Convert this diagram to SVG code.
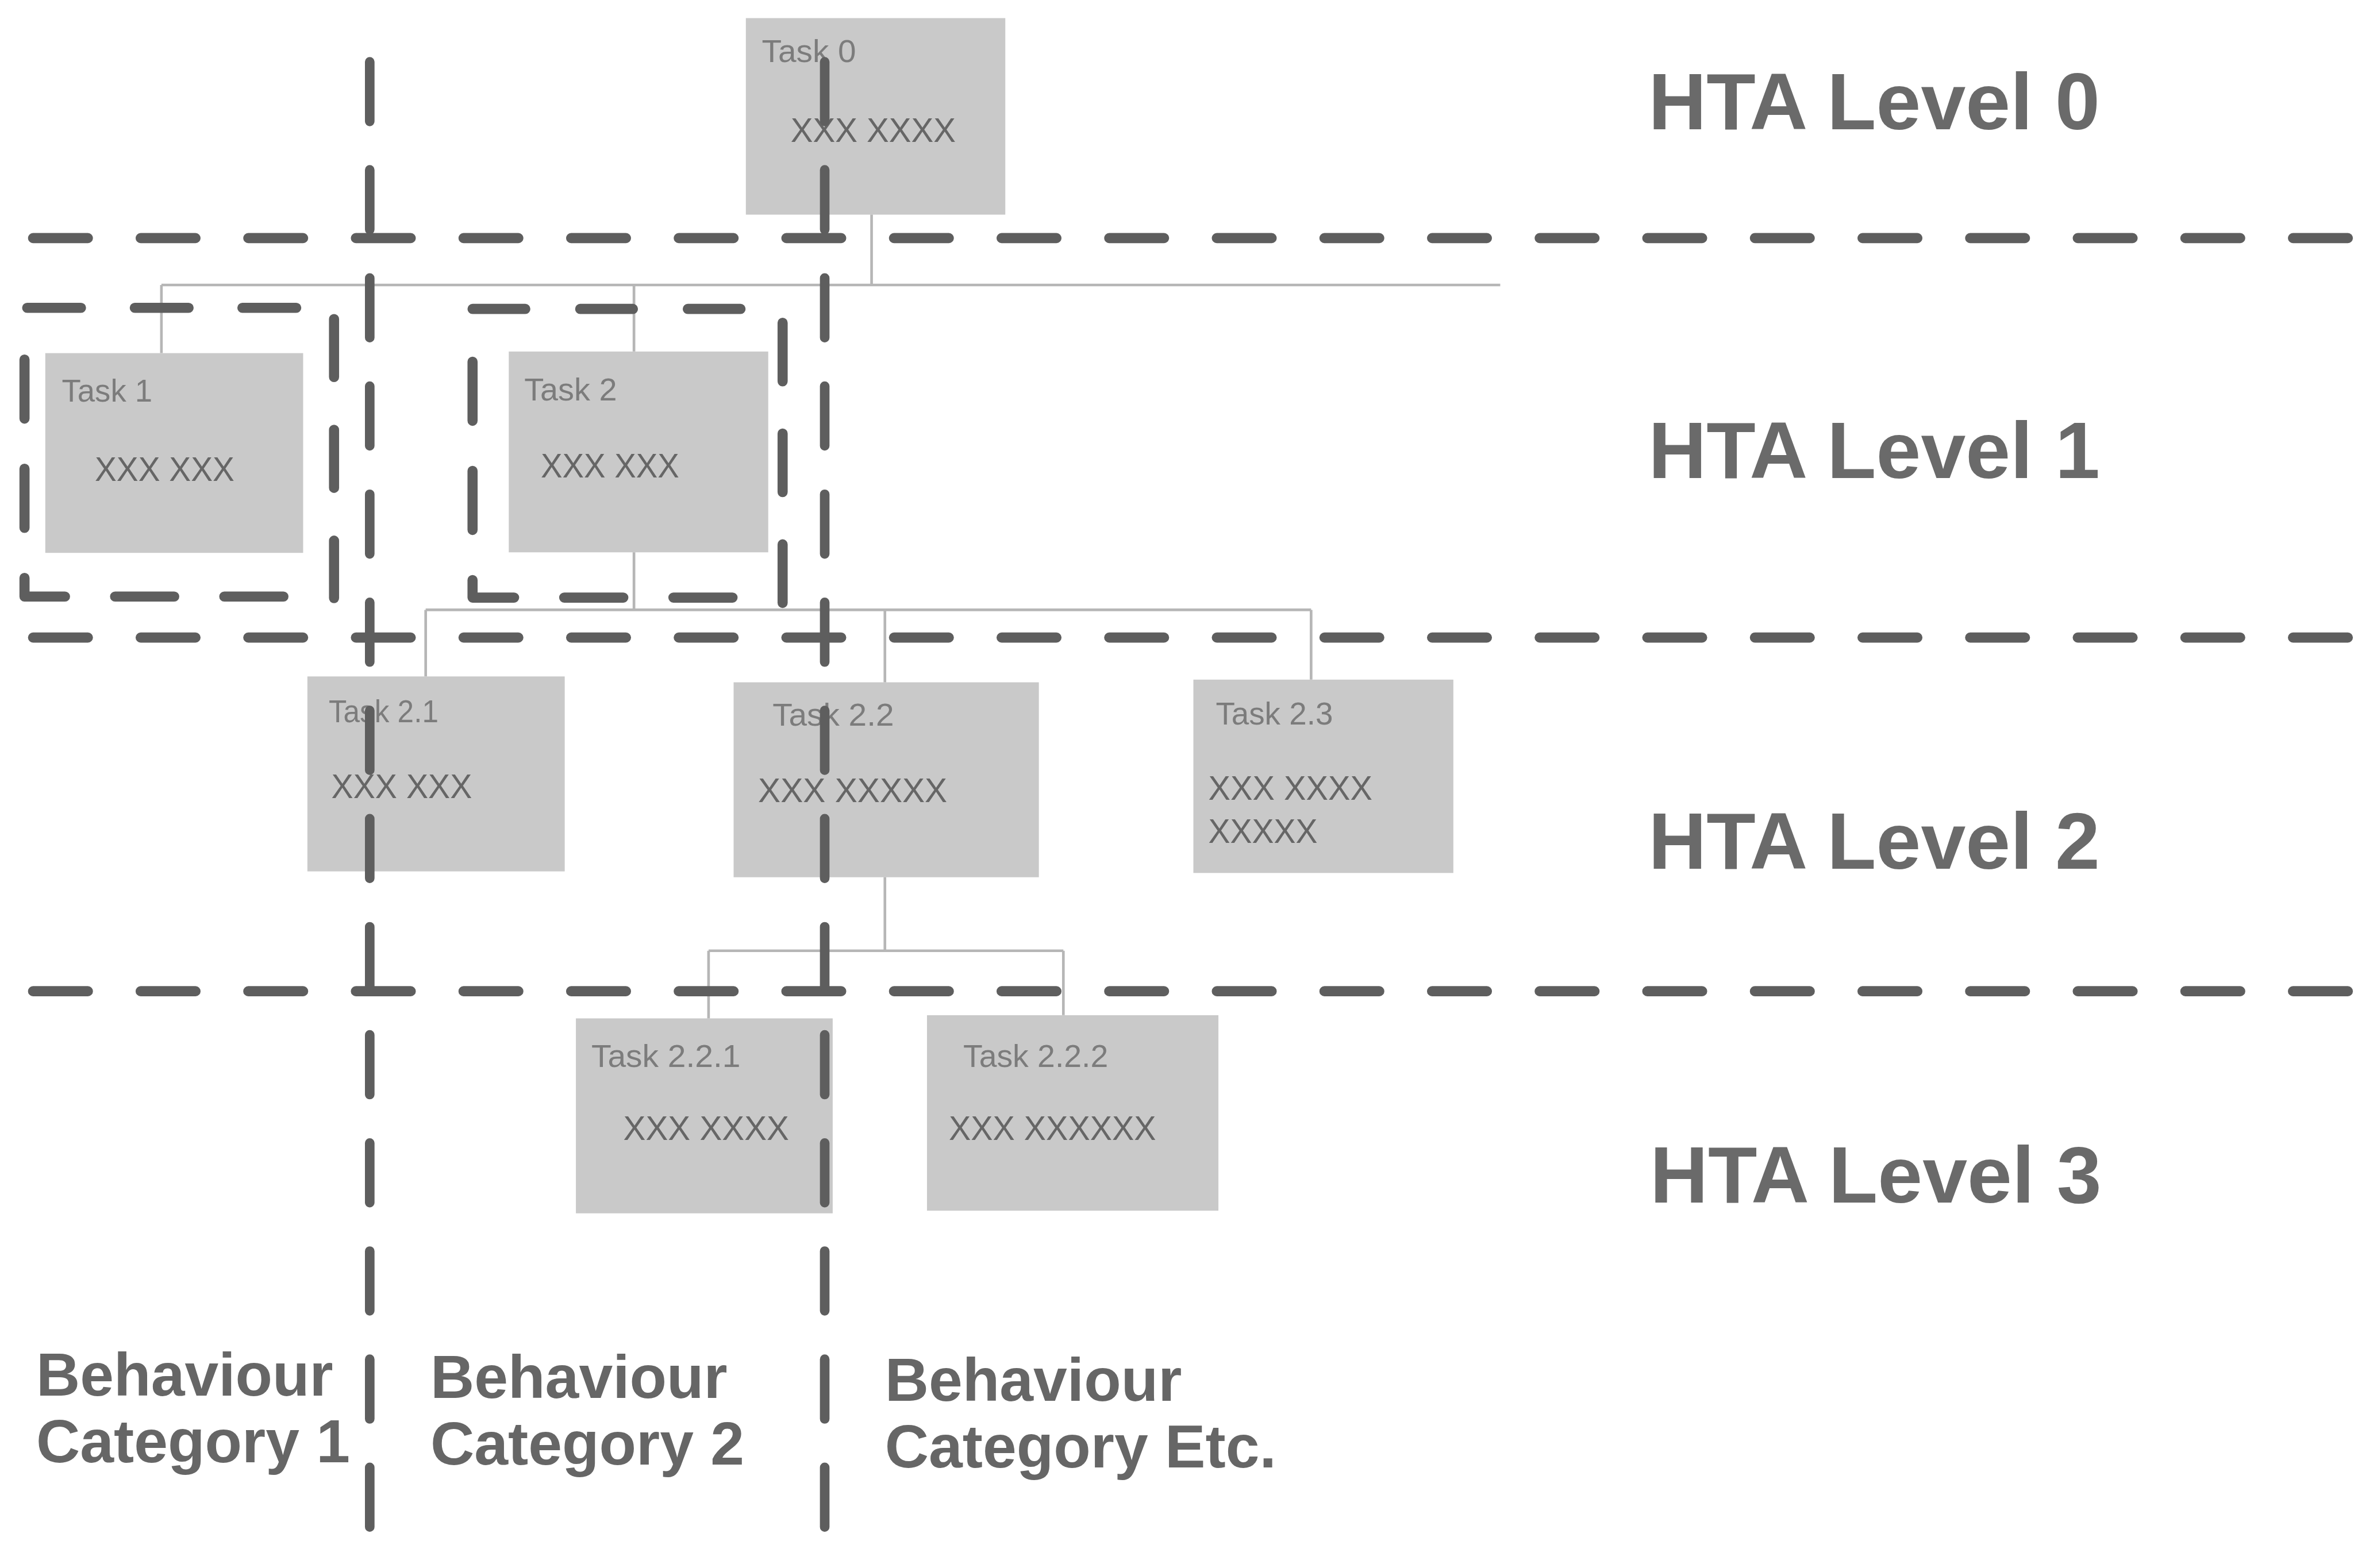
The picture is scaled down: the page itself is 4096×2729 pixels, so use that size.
<svg xmlns="http://www.w3.org/2000/svg" width="4096" height="2729" viewBox="0 0 4096 2729">
  <style>
    .box { fill: #c9c9c9; }
    .tname { font-family: "Liberation Sans", Arial, sans-serif; font-size: 60px; fill: #7c7c7c; }
    .tdesc { font-family: "Liberation Sans", Arial, sans-serif; font-size: 64px; fill: #666666; }
    .link { fill: none; stroke: #b6b6b6; stroke-width: 5; }
    .hdash { fill: none; stroke: #5e5e5e; stroke-width: 19; stroke-linecap: round; stroke-dasharray: 103 99; }
    .vdash { fill: none; stroke: #5e5e5e; stroke-width: 18; stroke-linecap: round; stroke-dasharray: 112 91; }
    .gdash { fill: none; stroke: #5e5e5e; stroke-width: 19; stroke-linecap: round; stroke-linejoin: round; }
    .level { font-family: "Liberation Sans", Arial, sans-serif; font-size: 151px; font-weight: bold; fill: #6a6a6a; }
    .cat { font-family: "Liberation Sans", Arial, sans-serif; font-size: 114px; font-weight: bold; fill: #666666; }
  </style>
  <rect x="0" y="0" width="4096" height="2729" fill="#ffffff"/>
  <g transform="scale(0.927)">

    <!-- task nodes -->
    <g id="task-0">
      <rect class="box" x="1400" y="34" width="487" height="369"/>
      <text class="tname" x="1430" y="117" textLength="177" lengthAdjust="spacingAndGlyphs">Task 0</text>
      <text class="tdesc" x="1484" y="266" textLength="310" lengthAdjust="spacingAndGlyphs">XXX XXXX</text>
    </g>
    <g id="task-1">
      <rect class="box" x="85" y="663" width="484" height="375"/>
      <text class="tname" x="116" y="754" textLength="170" lengthAdjust="spacingAndGlyphs">Task 1</text>
      <text class="tdesc" x="178" y="903" textLength="262" lengthAdjust="spacingAndGlyphs">XXX XXX</text>
    </g>
    <g id="task-2">
      <rect class="box" x="955" y="660" width="487" height="377"/>
      <text class="tname" x="984" y="752" textLength="174" lengthAdjust="spacingAndGlyphs">Task 2</text>
      <text class="tdesc" x="1015" y="896" textLength="260" lengthAdjust="spacingAndGlyphs">XXX XXX</text>
    </g>
    <g id="task-2-1">
      <rect class="box" x="577" y="1270" width="483" height="366"/>
      <text class="tname" x="617" y="1356" textLength="206" lengthAdjust="spacingAndGlyphs">Task 2.1</text>
      <text class="tdesc" x="622" y="1498" textLength="264" lengthAdjust="spacingAndGlyphs">XXX XXX</text>
    </g>
    <g id="task-2-2">
      <rect class="box" x="1377" y="1281" width="573" height="366"/>
      <text class="tname" x="1450" y="1362" textLength="228" lengthAdjust="spacingAndGlyphs">Task 2.2</text>
      <text class="tdesc" x="1423" y="1506" textLength="355" lengthAdjust="spacingAndGlyphs">XXX XXXXX</text>
    </g>
    <g id="task-2-3">
      <rect class="box" x="2240" y="1276" width="488" height="363"/>
      <text class="tname" x="2282" y="1360" textLength="220" lengthAdjust="spacingAndGlyphs">Task 2.3</text>
      <text class="tdesc" x="2268" y="1502" textLength="308" lengthAdjust="spacingAndGlyphs">XXX XXXX</text>
      <text class="tdesc" x="2268" y="1582" textLength="205" lengthAdjust="spacingAndGlyphs">XXXXX</text>
    </g>
    <g id="task-2-2-1">
      <rect class="box" x="1081" y="1912" width="482" height="366"/>
      <text class="tname" x="1110" y="2003" textLength="280" lengthAdjust="spacingAndGlyphs">Task 2.2.1</text>
      <text class="tdesc" x="1170" y="2140" textLength="311" lengthAdjust="spacingAndGlyphs">XXX XXXX</text>
    </g>
    <g id="task-2-2-2">
      <rect class="box" x="1740" y="1906" width="547" height="367"/>
      <text class="tname" x="1808" y="2003" textLength="272" lengthAdjust="spacingAndGlyphs">Task 2.2.2</text>
      <text class="tdesc" x="1781" y="2140" textLength="389" lengthAdjust="spacingAndGlyphs">XXX XXXXXX</text>
    </g>

    <!-- hierarchy connectors -->
    <g id="connectors">
      <path class="link" d="M1636,403 V535 M303,535 H2816 M303,535 V663 M1190,535 V660"/>
      <path class="link" d="M1190,1037 V1145 M799,1145 H2461 M799,1145 V1270 M1661,1145 V1281 M2461,1145 V1276"/>
      <path class="link" d="M1661,1647 V1785 M1330,1785 H1996 M1330,1785 V1912 M1996,1785 V1906"/>
    </g>

    <!-- behaviour category groupings -->
    <g id="group-category-1">
      <path class="gdash" d="M51,578 H556" stroke-dasharray="101 101"/>
      <path class="gdash" d="M46,675 V1120 H540" stroke-dasharray="111 94"/>
      <path class="gdash" d="M627,599 V1123" stroke-dasharray="109 99"/>
    </g>
    <g id="group-category-2">
      <path class="gdash" d="M887,580 H1393" stroke-dasharray="99 103"/>
      <path class="gdash" d="M887,679 V1122 H1375" stroke-dasharray="111 94"/>
      <path class="gdash" d="M1469,606 V1132" stroke-dasharray="110 98"/>
    </g>

    <!-- level boundaries -->
    <g id="level-lines">
      <path class="hdash" d="M62,447 H4420"/>
      <path class="hdash" d="M62,1197 H4420"/>
      <path class="hdash" d="M62,1861 H4420"/>
    </g>

    <!-- category boundaries -->
    <g id="category-lines">
      <path class="vdash" d="M694,116 V2950"/>
      <path class="vdash" d="M1548,116 V2950"/>
    </g>

    <!-- level labels -->
    <g id="level-labels">
      <text class="level" x="3094" y="243">HTA Level 0</text>
      <text class="level" x="3094" y="898">HTA Level 1</text>
      <text class="level" x="3094" y="1631">HTA Level 2</text>
      <text class="level" x="3097" y="2258">HTA Level 3</text>
    </g>

    <!-- category labels -->
    <g id="category-labels">
      <text class="cat" x="68" y="2620">Behaviour</text>
      <text class="cat" x="68" y="2745">Category 1</text>
      <text class="cat" x="808" y="2625">Behaviour</text>
      <text class="cat" x="808" y="2750">Category 2</text>
      <text class="cat" x="1661" y="2630">Behaviour</text>
      <text class="cat" x="1661" y="2755">Category Etc.</text>
    </g>
  </g>
</svg>
